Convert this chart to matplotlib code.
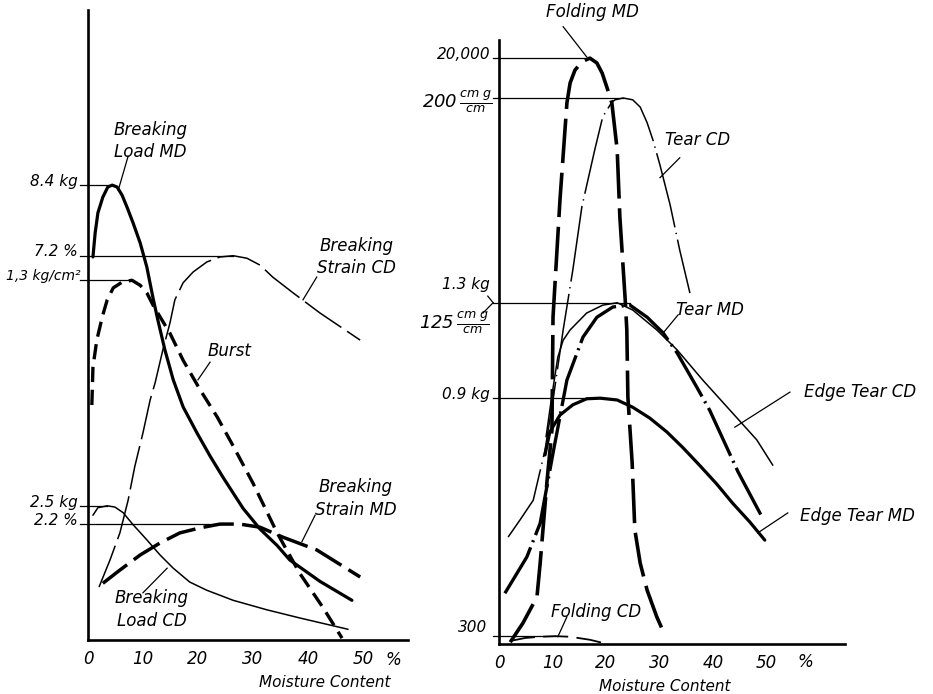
import numpy as np
import matplotlib
matplotlib.use('Agg')
import matplotlib.pyplot as plt

plt.rcParams['font.family'] = 'DejaVu Sans'
plt.rcParams['font.style'] = 'italic'
plt.rcParams['mathtext.fontset'] = 'custom'
plt.rcParams['mathtext.rm'] = 'DejaVu Sans:italic'
plt.rcParams['mathtext.it'] = 'DejaVu Sans:italic'
plt.rcParams['lines.scale_dashes'] = False

# moisture content (%) vs relative property level (0-100 of axis height)
# --- left: tensile / burst ---
bl_md_x = [0.9, 1.3, 1.8, 2.7, 3.6, 4.4, 5.3, 6.2, 7.1, 8.2, 9.5, 10.7, 11.8, 12.7, 14.0, 15.5,
           17.3, 19.8, 22.2, 24.5, 28.2, 31.3, 34.4, 36.7, 42.2, 48.0]
bl_md_y = [60.8, 64.6, 67.8, 70.3, 71.9, 72.2, 71.9, 70.6, 68.7, 66.2, 63.0, 59.2, 54.4, 50.8, 46.0, 41.3,
           37.0, 32.9, 29.2, 25.9, 20.9, 17.6, 15.0, 12.7, 9.3, 6.3]

burst_x = [0.7, 0.9, 1.6, 2.6, 3.5, 4.6, 6.2, 8.0, 9.5, 10.7, 11.8, 13.1, 14.9, 17.3, 20.4, 23.5,
           26.4, 30.0, 34.4, 38.5, 42.7, 46.2]
burst_y = [37.3, 43.3, 47.6, 51.3, 54.0, 55.9, 56.8, 57.1, 56.3, 55.1, 53.2, 51.3, 48.7, 44.4, 39.7, 35.4,
           30.8, 24.9, 17.0, 10.6, 5.2, 0.3]

bs_cd_x = [2.0, 4.0, 5.8, 7.3, 8.5, 10.0, 11.3, 12.2, 13.6, 14.9, 15.8, 17.3, 19.1, 21.6, 24.0, 26.4,
           28.9, 31.3, 33.6, 37.3, 42.2, 49.5]
bs_cd_y = [8.4, 12.7, 17.0, 22.2, 27.5, 32.9, 38.1, 40.8, 46.0, 50.3, 54.0, 56.7, 58.4, 60.0, 60.8, 61.0,
           60.6, 59.5, 57.6, 55.1, 51.9, 47.6]

bs_md_x = [2.7, 5.8, 9.5, 13.1, 16.7, 20.4, 24.0, 27.6, 31.3, 35.5, 41.6, 49.5]
bs_md_y = [9.0, 11.1, 13.5, 15.4, 17.0, 17.8, 18.4, 18.4, 17.9, 16.3, 14.3, 10.0]

bl_cd_x = [0.9, 1.8, 3.5, 4.9, 6.4, 8.2, 10.7, 13.1, 15.5, 18.5, 21.6, 26.4, 32.5, 38.5, 47.3]
bl_cd_y = [19.8, 21.0, 21.3, 21.1, 20.2, 18.3, 15.9, 13.5, 11.4, 9.2, 7.9, 6.3, 4.8, 3.5, 1.7]

# --- right: folding / tear ---
fold_md_x = [2.1, 4.5, 7.1, 7.7, 9.0, 9.9, 10.1, 11.4, 12.7, 13.3, 14.2, 15.5, 17.0, 18.3, 19.3, 20.2,
             21.1, 22.1, 22.6, 23.6, 23.9, 24.1, 24.9, 25.4, 26.4, 27.7, 29.5, 31.0]
fold_md_y = [0.3, 3.5, 7.8, 13.4, 27.2, 35.4, 54.1, 73.5, 89.6, 92.9, 95.0, 96.4, 97.0, 96.2, 94.5, 92.1,
             89.6, 81.8, 70.7, 57.0, 52.0, 40.9, 30.0, 18.9, 13.4, 8.9, 4.5, 1.5]

tear_cd_x = [1.7, 3.9, 6.4, 8.6, 10.1, 12.0, 13.8, 15.5, 17.9, 19.4, 21.1, 21.7, 23.2, 25.0, 26.4,
             27.7, 28.8, 30.1, 32.0, 33.8, 35.7]
tear_cd_y = [17.7, 20.5, 23.8, 32.1, 40.4, 52.0, 61.9, 72.4, 81.8, 87.3, 89.7, 90.1, 90.4, 90.1, 88.9,
             86.3, 83.4, 79.3, 72.7, 65.2, 58.1]

tear_md_x = [1.1, 5.2, 7.7, 10.1, 12.7, 15.7, 18.3, 21.3, 24.5, 27.7, 30.7, 33.3, 37.0, 39.4, 44.7, 49.2]
tear_md_y = [8.4, 14.4, 20.0, 31.6, 43.7, 50.8, 54.1, 55.8, 56.1, 54.1, 51.5, 48.2, 42.5, 38.7, 28.5, 21.0]

et_cd_x = [8.8, 9.9, 11.0, 12.0, 13.3, 16.4, 19.4, 22.1, 25.0, 29.5, 33.3, 38.1, 43.2, 48.2, 51.2]
et_cd_y = [34.3, 41.2, 47.5, 50.3, 52.0, 54.8, 56.1, 56.5, 55.3, 52.0, 48.7, 43.7, 38.7, 33.8, 29.6]

et_md_x = [8.6, 9.5, 11.4, 13.8, 16.4, 18.9, 22.1, 25.0, 28.2, 31.4, 34.4, 37.6, 40.7, 43.7, 46.9, 49.7]
et_md_y = [31.3, 35.1, 37.9, 39.6, 40.6, 40.7, 40.4, 39.2, 37.4, 35.1, 32.5, 29.5, 26.5, 23.3, 20.2, 17.2]

fold_cd_x = [2.1, 4.9, 7.7, 10.5, 13.3, 17.0, 19.8]
fold_cd_y = [0.5, 1.0, 1.2, 1.3, 1.2, 0.7, 0.1]

xticks = [0, 10, 20, 30, 40, 50]

fig = plt.figure(figsize=(9.33, 6.94), dpi=100)
W, H = 933.0, 694.0
axL = fig.add_axes([88 / W, (H - 640) / H, 320 / W, 630 / H])
axR = fig.add_axes([499 / W, (H - 644) / H, 346 / W, 604 / H])

for ax, xmax in ((axL, 58.2), (axR, 64.7)):
    ax.set_xlim(0, xmax)
    ax.set_ylim(0, 100)
    ax.spines['top'].set_visible(False)
    ax.spines['right'].set_visible(False)
    ax.spines['left'].set_linewidth(1.9)
    ax.spines['bottom'].set_linewidth(1.9)
    ax.set_yticks([])
    ax.set_xticks(xticks)
    ax.set_xticklabels([str(t) for t in xticks], fontsize=12)
    ax.tick_params(axis='x', length=0, pad=7)


def curve(ax, x, y, lw, dashes=None):
    ls = '-' if dashes is None else (0, dashes)
    ln, = ax.plot(x, y, color='black', lw=lw, ls=ls, solid_capstyle='round',
                  solid_joinstyle='round', dash_capstyle='butt', clip_on=False)
    return ln


def peak_line(ax, x, y, x0, lw=0.9):
    i = int(np.argmax(y))
    ax.plot([x0, x[i]], [y[i], y[i]], color='black', lw=lw, clip_on=False)
    return y[i]


def leader(ax, p, q):
    ax.plot([p[0], q[0]], [p[1], q[1]], color='black', lw=0.9, clip_on=False)


fs = 12
# left panel curves
curve(axL, bl_md_x, bl_md_y, 2.3)
curve(axL, burst_x, burst_y, 2.4, (11, 5.5))
curve(axL, bs_cd_x, bs_cd_y, 1.1, (32, 5))
curve(axL, bs_md_x, bs_md_y, 2.5, (22, 6))
curve(axL, bl_cd_x, bl_cd_y, 1.1)

yv = peak_line(axL, bl_md_x, bl_md_y, -1.5)
axL.text(-1.8, yv + 0.6, '8.4 kg', ha='right', va='center', fontsize=11)
yv = peak_line(axL, bs_cd_x, bs_cd_y, -1.5)
axL.text(-1.8, yv + 0.6, '7.2 %', ha='right', va='center', fontsize=11)
yv = peak_line(axL, burst_x, burst_y, -1.5)
axL.text(-1.4, yv + 0.6, '1,3 kg/cm²', ha='right', va='center', fontsize=10)
yv = peak_line(axL, bl_cd_x, bl_cd_y, -1.5)
axL.text(-1.8, yv + 0.6, '2.5 kg', ha='right', va='center', fontsize=11)
yv = peak_line(axL, bs_md_x, bs_md_y, -1.5)
axL.text(-1.8, yv + 0.6, '2.2 %', ha='right', va='center', fontsize=11)

axL.text(11.3, 79.2, 'Breaking\nLoad MD', ha='center', va='center', fontsize=fs, linespacing=1.35)
leader(axL, (7.3, 76.8), (5.5, 71.4))
axL.text(48.9, 60.8, 'Breaking\nStrain CD', ha='center', va='center', fontsize=fs, linespacing=1.35)
leader(axL, (41.6, 57.6), (39.1, 54.0))
axL.text(25.8, 45.9, 'Burst', ha='center', va='center', fontsize=fs)
leader(axL, (22.2, 44.1), (20.0, 41.3))
axL.text(48.7, 22.4, 'Breaking\nStrain MD', ha='center', va='center', fontsize=fs, linespacing=1.35)
leader(axL, (41.3, 19.8), (38.9, 15.6))
axL.text(11.6, 4.8, 'Breaking\nLoad CD', ha='center', va='center', fontsize=fs, linespacing=1.35)
leader(axL, (14.4, 11.4), (10.0, 7.5))

axL.text(55.5, -3.2, '%', ha='center', va='center', fontsize=12)
axL.text(43.1, -6.8, 'Moisture Content', ha='center', va='center', fontsize=11)

# right panel curves
curve(axR, fold_md_x, fold_md_y, 2.6, (32, 7))
curve(axR, tear_cd_x, tear_cd_y, 1.1, (55, 4, 1, 4))
curve(axR, tear_md_x, tear_md_y, 2.4, (38, 4, 1.5, 4))
curve(axR, et_cd_x, et_cd_y, 1.1)
curve(axR, et_md_x, et_md_y, 2.3)
curve(axR, fold_cd_x, fold_cd_y, 1.3, (18, 6))

yv = peak_line(axR, fold_md_x, fold_md_y, -1.1)
axR.text(-1.5, yv + 0.6, '20,000', ha='right', va='center', fontsize=11)
yv = peak_line(axR, tear_cd_x, tear_cd_y, -1.1)
axR.text(-1.2, yv - 0.6, r'$200\,\frac{cm\ g}{cm}$', ha='right', va='center', fontsize=13)

i = int(np.argmax(et_cd_y))
j = int(np.argmax(tear_md_y))
axR.plot([-1.1, tear_md_x[j]], [et_cd_y[i], et_cd_y[i]], color='black', lw=0.9, clip_on=False)
axR.text(-1.7, et_cd_y[i] + 3.0, '1.3 kg', ha='right', va='center', fontsize=11)
leader(axR, (-2.1, et_cd_y[i] + 1.1), (-1.1, et_cd_y[i]))
axR.text(-1.7, et_cd_y[i] - 3.4, r'$125\,\frac{cm\ g}{cm}$', ha='right', va='center', fontsize=13)
leader(axR, (-3.0, et_cd_y[i] - 1.7), (-1.1, et_cd_y[i]))

yv = peak_line(axR, et_md_x, et_md_y, -1.1)
axR.text(-1.7, yv + 0.6, '0.9 kg', ha='right', va='center', fontsize=11)
yv = peak_line(axR, fold_cd_x, fold_cd_y, -1.1)
axR.text(-2.2, yv + 1.4, '300', ha='right', va='center', fontsize=11)

axR.text(17.4, 104.6, 'Folding MD', ha='center', va='center', fontsize=fs)
leader(axR, (12.0, 102.2), (16.4, 97.2))
axR.text(37.2, 83.4, 'Tear CD', ha='center', va='center', fontsize=fs)
leader(axR, (33.8, 80.5), (30.1, 77.2))
axR.text(39.4, 55.3, 'Tear MD', ha='center', va='center', fontsize=fs)
leader(axR, (33.5, 54.5), (30.7, 51.5))
axR.text(67.5, 41.7, 'Edge Tear CD', ha='center', va='center', fontsize=fs)
leader(axR, (54.4, 41.7), (44.1, 35.9))
axR.text(67.1, 21.2, 'Edge Tear MD', ha='center', va='center', fontsize=fs)
leader(axR, (54.0, 21.7), (48.4, 18.4))
axR.text(18.1, 5.3, 'Folding CD', ha='center', va='center', fontsize=fs)
leader(axR, (12.7, 4.5), (11.0, 1.2))

axR.text(57.2, -3.0, '%', ha='center', va='center', fontsize=12)
axR.text(31.0, -7.0, 'Moisture Content', ha='center', va='center', fontsize=11)

fig.savefig('out.png', dpi=100, facecolor='white')
